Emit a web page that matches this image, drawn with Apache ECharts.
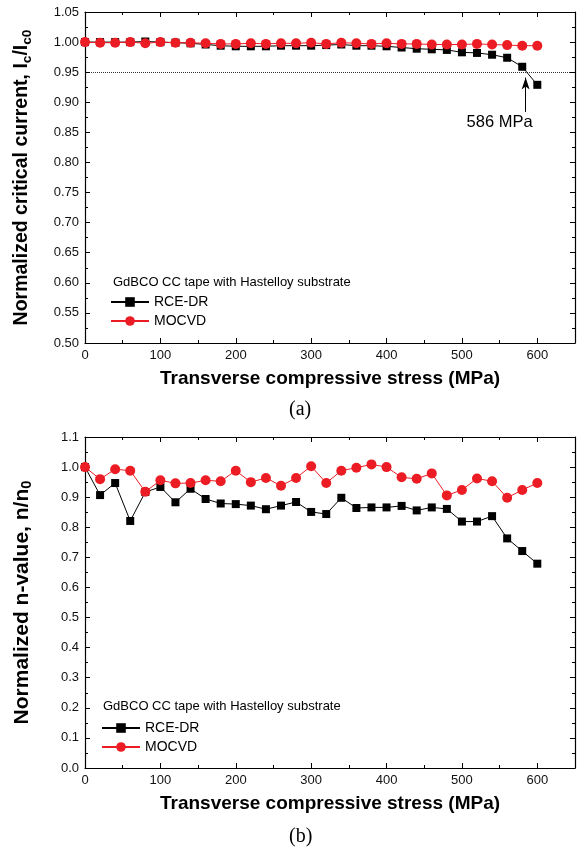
<!DOCTYPE html>
<html lang="en">
<head>
    <meta charset="UTF-8">
    <title>Ic and n-value vs transverse compressive stress</title>
    <style>
        html, body { margin: 0; padding: 0; background: #fff; }
    </style>
</head>
<body>
    <div id="main" style="width: 578px;height:854px;"></div>
</body>
<script src="https://cdn.jsdelivr.net/npm/echarts@6/dist/echarts.min.js"></script>
<script type="text/javascript">
    // stress points (MPa)
    var stress = [0, 20, 40, 60, 80, 100, 120, 140, 160, 180, 200, 220, 240, 260, 280, 300,
        320, 340, 360, 380, 400, 420, 440, 460, 480, 500, 520, 540, 560, 580, 600];

    // (a) normalized critical current Ic/Ic0
    var icRce = [1.000, 1.000, 1.000, 1.000, 1.001, 1.000, 0.999, 0.998, 0.996, 0.994, 0.993,
        0.993, 0.993, 0.994, 0.994, 0.994, 0.995, 0.996, 0.994, 0.994, 0.993, 0.991, 0.989,
        0.988, 0.987, 0.983, 0.982, 0.979, 0.974, 0.959, 0.929];
    var icMocvd = [1.000, 0.999, 0.999, 1.000, 0.998, 1.000, 0.999, 0.999, 0.998, 0.997, 0.997,
        0.998, 0.997, 0.998, 0.998, 0.999, 0.997, 0.999, 0.998, 0.997, 0.998, 0.997, 0.997,
        0.996, 0.996, 0.996, 0.997, 0.996, 0.995, 0.994, 0.994];

    // (b) normalized n-value n/n0
    var nRce = [1.000, 0.907, 0.947, 0.821, 0.917, 0.934, 0.883, 0.928, 0.894, 0.879, 0.877,
        0.872, 0.860, 0.872, 0.884, 0.851, 0.844, 0.898, 0.864, 0.866, 0.866, 0.871, 0.856,
        0.866, 0.861, 0.819, 0.819, 0.837, 0.763, 0.721, 0.679];
    var nMocvd = [1.000, 0.960, 0.993, 0.988, 0.918, 0.956, 0.946, 0.947, 0.956, 0.953, 0.988,
        0.950, 0.964, 0.938, 0.964, 1.003, 0.947, 0.988, 0.998, 1.009, 1.000, 0.966, 0.961,
        0.979, 0.906, 0.924, 0.962, 0.953, 0.898, 0.924, 0.947];

    var seriesNames = ['RCE-DR', 'MOCVD'];
    var criterion = 0.95;       // 95% Ic criterion
    var arrowAt = [584.5, 0.884, 0.941];
    var arrowText = '586 MPa';

    var FONT = 'Liberation Sans, Arial, sans-serif';
    var RED = '#ec1c24';

    function pairs(ys) {
        return stress.map(function (x, i) { return [x, ys[i]]; });
    }

    function xAx(grid, pos) {
        var bottom = pos === 'bottom';
        return {
            gridIndex: grid, type: 'value', position: pos, min: 0, max: 650, interval: 100,
            axisLine: { onZero: false, lineStyle: { color: '#000', width: 1.2 } },
            axisTick: { inside: true, length: 5, lineStyle: { color: '#000' } },
            minorTick: { show: true, splitNumber: 2, length: 3, lineStyle: { color: '#000' } },
            splitLine: { show: false },
            axisLabel: {
                show: bottom, fontSize: 13, color: '#111', fontFamily: FONT, margin: 6,
                formatter: function (v) { return v > 600 ? '' : String(v); }
            },
            name: bottom ? 'Transverse compressive stress (MPa)' : '',
            nameLocation: 'middle', nameGap: 26,
            nameTextStyle: { fontSize: 19, fontWeight: 'bold', color: '#000', fontFamily: FONT }
        };
    }

    function yAx(grid, pos, min, max, step, dec, name, fs) {
        var left = pos === 'left';
        return {
            gridIndex: grid, type: 'value', position: pos, min: min, max: max, interval: step,
            axisLine: { onZero: false, lineStyle: { color: '#000', width: 1.2 } },
            axisTick: { inside: true, length: 5, lineStyle: { color: '#000' } },
            minorTick: { show: true, splitNumber: 2, length: 3, lineStyle: { color: '#000' } },
            splitLine: { show: false },
            axisLabel: {
                show: left, fontSize: 13, color: '#111', fontFamily: FONT, margin: 6,
                formatter: function (v) { return v.toFixed(dec); }
            },
            name: left ? name : '',
            nameLocation: 'middle', nameGap: 51,
            nameTextStyle: {
                fontSize: fs, fontWeight: 'bold', color: '#000', fontFamily: FONT, lineHeight: 24,
                rich: {
                    b: { fontSize: fs, fontWeight: 'bold', color: '#000', fontFamily: FONT, lineHeight: 24 },
                    sub: { fontSize: fs * 0.7, fontWeight: 'bold', color: '#000', fontFamily: FONT,
                        lineHeight: 13, verticalAlign: 'bottom' }
                }
            }
        };
    }

    function lineSeries(name, ys, ax, color, symbol, size) {
        return {
            name: name, type: 'line', xAxisIndex: ax, yAxisIndex: ax, data: pairs(ys),
            symbol: symbol, symbolSize: size, showSymbol: true,
            lineStyle: { color: color, width: 1 },
            itemStyle: { color: color },
            z: symbol === 'circle' ? 4 : 3
        };
    }

    var myChart = echarts.init(document.getElementById('main'));

    var rce = lineSeries(seriesNames[0], icRce, 0, '#000', 'rect', 8);
    rce.markLine = {
        silent: true, animation: false,
        data: [
            [{ coord: [0, criterion], symbol: 'none', lineStyle: { type: [1, 1], width: 0.8 } },
             { coord: [650, criterion], symbol: 'none' }],
            [{ coord: [arrowAt[0], arrowAt[1]], symbol: 'none' },
             { coord: [arrowAt[0], arrowAt[2]], symbol: 'arrow', symbolSize: [6, 12] }]
        ],
        lineStyle: { color: '#000', width: 1, type: 'solid' },
        label: { show: false }
    };
    rce.markPoint = {
        silent: true, animation: false, symbol: 'circle', symbolSize: 1,
        itemStyle: { color: 'rgba(0,0,0,0)' },
        data: [{ coord: [550, 0.866], value: arrowText }],
        label: { show: true, position: 'inside', formatter: arrowText, fontSize: 16.5,
            color: '#000', fontFamily: FONT }
    };

    var option = {
        animation: false,
        grid: [
            { left: 85, width: 490, top: 12, height: 331 },
            { left: 85, width: 490, top: 437, height: 331 }
        ],
        xAxis: [xAx(0, 'bottom'), xAx(0, 'top'), xAx(1, 'bottom'), xAx(1, 'top')],
        yAxis: [
            yAx(0, 'left', 0.5, 1.05, 0.05, 2, '{b|Normalized critical current, I}{sub|c}{b|/I}{sub|c0}', 19.5),
            yAx(0, 'right', 0.5, 1.05, 0.05, 2, '', 19.5),
            yAx(1, 'left', 0, 1.1, 0.1, 1, '{b|Normalized n-value, n/n}{sub|0}', 21),
            yAx(1, 'right', 0, 1.1, 0.1, 1, '', 21)
        ],
        legend: [
            {
                orient: 'vertical', left: 105, top: 290, itemWidth: 38, itemHeight: 12, itemGap: 5,
                data: seriesNames,
                textStyle: { fontSize: 14, color: '#000', fontFamily: FONT }
            },
            {
                orient: 'vertical', left: 96, top: 716, itemWidth: 38, itemHeight: 12, itemGap: 5,
                data: seriesNames,
                textStyle: { fontSize: 14, color: '#000', fontFamily: FONT }
            }
        ],
        graphic: [
            { type: 'text', left: 113, top: 276, style: { text: 'GdBCO CC tape with Hastelloy substrate',
                fontSize: 13, fill: '#000', fontFamily: FONT } },
            { type: 'text', left: 103, top: 700, style: { text: 'GdBCO CC tape with Hastelloy substrate',
                fontSize: 13, fill: '#000', fontFamily: FONT } },
            { type: 'text', left: 289, top: 400, style: { text: '(a)', fontSize: 20, fill: '#000',
                fontFamily: 'Liberation Serif, Times New Roman, serif' } },
            { type: 'text', left: 289, top: 827, style: { text: '(b)', fontSize: 20, fill: '#000',
                fontFamily: 'Liberation Serif, Times New Roman, serif' } }
        ],
        series: [
            rce,
            lineSeries(seriesNames[1], icMocvd, 0, RED, 'circle', 10),
            lineSeries(seriesNames[0], nRce, 2, '#000', 'rect', 8),
            lineSeries(seriesNames[1], nMocvd, 2, RED, 'circle', 10)
        ]
    };

    myChart.setOption(option);
</script>
</html>
